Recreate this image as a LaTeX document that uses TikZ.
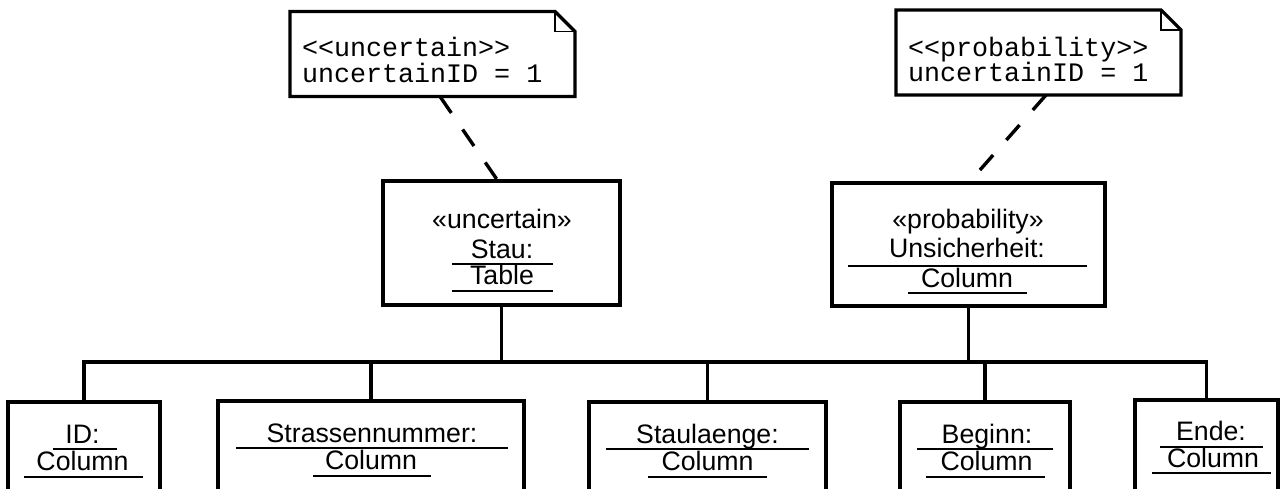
\documentclass[tikz,border=0pt]{standalone}
\usepackage{fontspec}
\setmainfont{Liberation Sans}
\newfontfamily\notefont{Liberation Mono}
\begin{document}
\begin{tikzpicture}[x=1pt,y=-1pt,
  every node/.style={inner sep=0pt,outer sep=0pt},
  objbox/.style={draw,line width=3.2pt,rectangle,anchor=north west},
  notearea/.style={rectangle,anchor=north west},
  noteline/.style={line width=3.2pt,line join=miter},
  foldline/.style={line width=1.3pt},
  lbl/.style={anchor=base,font=\fontsize{26.7pt}{30pt}\selectfont},
  notetxt/.style={anchor=base west,font=\notefont\fontsize{26.7pt}{30pt}\selectfont},
  uline/.style={line width=1.5pt},
  conn/.style={line width=3.4pt,line join=miter},
  dashconn/.style={line width=3.4pt,dash pattern=on 20pt off 20pt}
]
\useasboundingbox (0,0) rectangle (1287,489);
\fill[white] (0,0) rectangle (1287,489);
\clip (0,0) rectangle (1287,489);

% tagged notes
\node[notearea,minimum width=285pt,minimum height=85pt] (note1) at (290,11.5) {};
\node[notearea,minimum width=285pt,minimum height=85pt] (note2) at (896,10) {};
\foreach \n in {note1,note2}{
  \draw[noteline] (\n.south west) -- (\n.north west) -- ([xshift=-20pt]\n.north east)
    -- ([yshift=-20pt]\n.north east) -- (\n.south east) -- cycle;
  \draw[foldline] ([xshift=-20pt]\n.north east) -- ([xshift=-20pt,yshift=-20pt]\n.north east)
    -- ([yshift=-20pt]\n.north east);
}
\node[notetxt] (n1a) at (302,57) {<{}<uncertain>{}>};
\node[notetxt] (n1b) at (302,83) {uncertainID = 1};
\node[notetxt] (n2a) at (908,57) {<{}<probability>{}>};
\node[notetxt] (n2b) at (908,82) {uncertainID = 1};

% upper objects
\node[objbox,minimum width=237pt,minimum height=124pt] (stau) at (383,181) {};
\node[objbox,minimum width=273pt,minimum height=123pt] (unsich) at (832,183) {};

\node[lbl] (s1) at (502,229) {«uncertain»};
\node[lbl] (s2) at (502,258) {Stau:};
\draw[uline] (452,264) -- (553,264);
\node[lbl] (s3) at (502,284) {Table};
\draw[uline] (452,291) -- (553,291);

\node[lbl] (u1) at (968,229) {«probability»};
\node[lbl] (u2) at (967,257) {Unsicherheit:};
\draw[uline] (848,266) -- (1087,266);
\node[lbl] (u3) at (967,287) {Column};
\draw[uline] (908,293) -- (1027,293);

% column objects
\node[objbox,minimum width=152pt,minimum height=130pt] (idbox) at (8,402) {};
\node[objbox,minimum width=306pt,minimum height=130pt] (strbox) at (218,401) {};
\node[objbox,minimum width=237pt,minimum height=130pt] (laenbox) at (589,402) {};
\node[objbox,minimum width=170pt,minimum height=130pt] (begbox) at (900,402) {};
\node[objbox,minimum width=143pt,minimum height=130pt] (endbox) at (1135,400) {};

\node[lbl] (i1) at (82.5,443) {ID:};
\draw[uline] (53,449) -- (117,449);
\node[lbl] (i2) at (82.5,470) {Column};
\draw[uline] (24,477) -- (143,477);

\node[lbl] (r1) at (372,442) {Strassennummer:};
\draw[uline] (236,448) -- (508,448);
\node[lbl] (r2) at (371,469) {Column};
\draw[uline] (313,476) -- (431,476);

\node[lbl] (l1) at (707.5,443) {Staulaenge:};
\draw[uline] (606,449) -- (809,449);
\node[lbl] (l2) at (707.5,470) {Column};
\draw[uline] (648,477) -- (767,477);

\node[lbl] (b1) at (987,443) {Beginn:};
\draw[uline] (917,449) -- (1053,449);
\node[lbl] (b2) at (986.5,470) {Column};
\draw[uline] (926,477) -- (1045,477);

\node[lbl] (e1) at (1211,440) {Ende:};
\draw[uline] (1160,447) -- (1263,447);
\node[lbl] (e2) at (1213,467) {Column};
\draw[uline] (1152,473) -- (1271,473);

% composition tree
\coordinate (bus) at (0,362);
\draw[conn] (idbox.north) |- (endbox.north |- bus) -- (endbox.north);
\foreach \b in {strbox,laenbox,begbox}
  \draw[conn] (\b.north) -- (\b.north |- bus);
\draw[conn] (stau.south) -- (stau.south |- bus);
\draw[conn] (unsich.south) -- (unsich.south |- bus);

% note anchors
\draw[dashconn] ([xshift=7.5pt]note1.south) -- ([xshift=-3.5pt]stau.north);
\draw[dashconn] ([xshift=7.5pt]note2.south) -- (unsich.north);
\end{tikzpicture}
\end{document}
